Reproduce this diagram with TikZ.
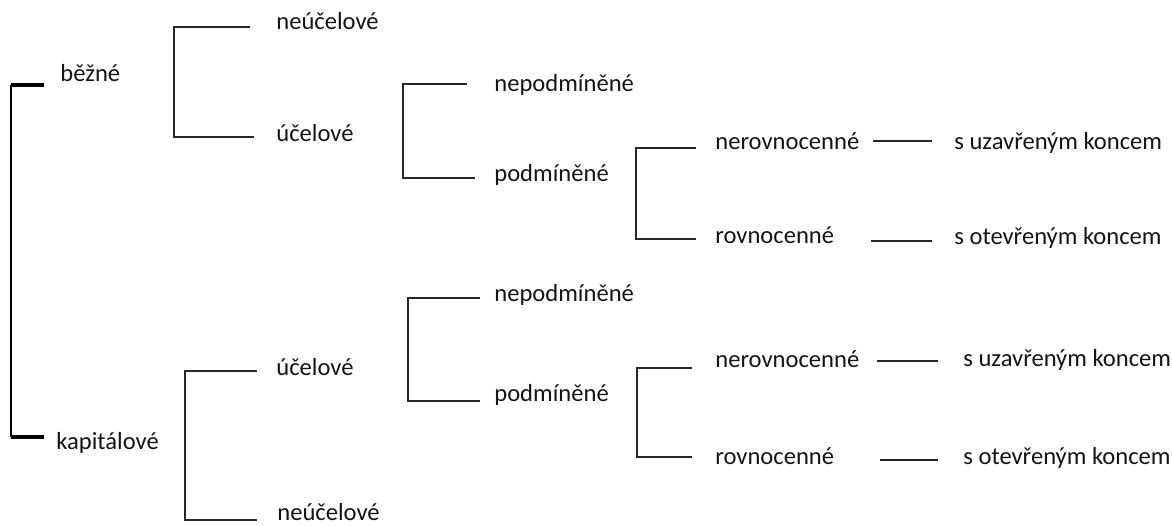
\documentclass[tikz,border=0pt]{standalone}
\usepackage{fontspec}
\setmainfont{Carlito}
\usepackage{tikz}
\definecolor{linegrey}{RGB}{40,40,40}
\tikzset{
  wire/.style={linegrey,line width=0.65pt},
  rootwire/.style={black,line width=0.75pt},
  tick/.style={black,line width=2pt},
  lab/.style={anchor=west,inner sep=0pt,text height=0.5em,text depth=0pt,
              font=\fontsize{14}{17}\selectfont,text=black!92},
}

\begin{document}
\begin{tikzpicture}[x=0.02cm,y=-0.02cm]
  \path[use as bounding box] (0,0) rectangle (1172,526);

  % labels
  \foreach \nm/\xx/\yy/\txt in {
    beh/60/77/{běžné},
    kap/56/445/{kapitálové},
    neu1/276/25/{neúčelové},
    uc1/276/137/{účelové},
    nep1/494/87/{nepodmíněné},
    pod1/494/177/{podmíněné},
    ner1/715/145/{nerovnocenné},
    rov1/715/239/{rovnocenné},
    suz1/954/145/{s uzavřeným koncem},
    sot1/954/240/{s otevřeným koncem},
    uc2/276/371/{účelové},
    neu2/277/516/{neúčelové},
    nep2/494/297/{nepodmíněné},
    pod2/494/397/{podmíněné},
    ner2/715/363/{nerovnocenné},
    rov2/715/460/{rovnocenné},
    suz2/963/362/{s uzavřeným koncem},
    sot2/963/460/{s otevřeným koncem}
  }{
    \node[lab] (\nm) at (\xx,\yy) {\txt};
  }

  % root bracket
  \coordinate (rt) at (11,85);
  \coordinate (rb) at (11,437);
  \draw[rootwire] (rt) -- (rb);
  \draw[tick] (rt) -- ([xshift=-9pt]beh.west |- rt);
  \draw[tick] (rb) -- ([xshift=-7pt]kap.west |- rb);

  % brackets: vertical x / top y / top end x / bottom y / bottom end x
  \foreach \nm/\vx/\ty/\tx/\by/\bx in {
    ba/174/27/250/137/254,
    bb/403/84/467/178/475,
    bc/636/148/696/239/696,
    bd/185/371/257/520/257,
    be/408/298/480/401/480,
    bf/637/368/692/457/692
  }{
    \coordinate (\nm t) at (\tx,\ty);
    \coordinate (\nm c) at (\vx,\by);
    \coordinate (\nm b) at (\bx,\by);
    \draw[wire] (\nm t) -| (\nm c) -- (\nm b);
  }

  % short dashes between the last two columns
  \foreach \nm/\xa/\xb/\yy in {
    da/873/932/141, db/871/932/241,
    dc/877/938/361, dd/880/938/460
  }{
    \coordinate (\nm l) at (\xa,\yy);
    \coordinate (\nm r) at (\xb,\yy);
    \draw[wire] (\nm l) -- (\nm r);
  }
\end{tikzpicture}
\end{document}
